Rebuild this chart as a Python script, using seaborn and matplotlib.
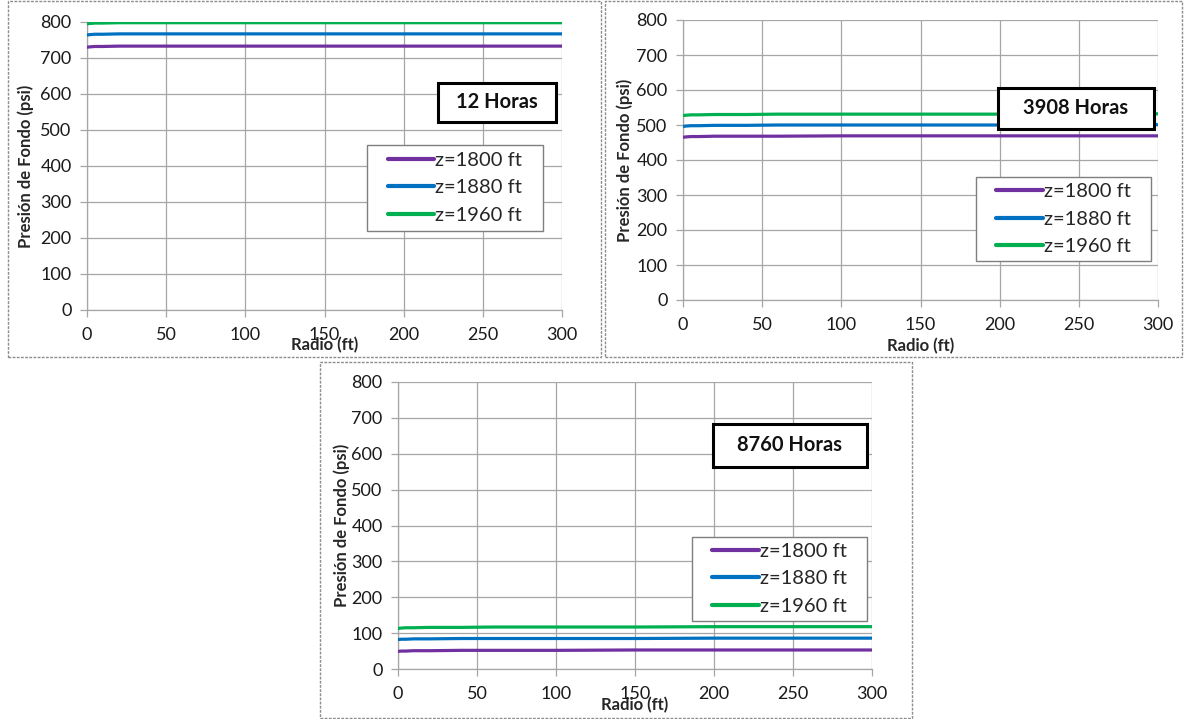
import matplotlib
matplotlib.use("Agg")
import matplotlib.pyplot as plt
from matplotlib.patches import Rectangle
import seaborn as sns
import pandas as pd

# ---------------- data ----------------
radio = [0, 2, 5, 10, 20, 40, 60, 100, 150, 200, 250, 300]
series = ["z=1800 ft", "z=1880 ft", "z=1960 ft"]
colors = ["#7030A0", "#0070C0", "#00B050"]

p12_1800 = [730, 731, 732, 732, 733, 733, 733, 733, 733, 733, 733, 733]
p12_1880 = [764, 765, 766, 766, 767, 767, 767, 767, 767, 767, 767, 767]
p12_1960 = [795, 796, 797, 797, 798, 798, 798, 798, 798, 798, 798, 798]

p3908_1800 = [465, 466, 467, 467, 468, 468, 468, 469, 469, 469, 469, 469]
p3908_1880 = [496, 497, 498, 498, 499, 499, 500, 500, 500, 500, 500, 501]
p3908_1960 = [527, 528, 529, 529, 530, 530, 531, 531, 531, 531, 532, 532]

p8760_1800 = [49, 50, 50, 51, 51, 52, 52, 52, 53, 53, 53, 53]
p8760_1880 = [82, 83, 83, 84, 84, 85, 85, 85, 85, 86, 86, 86]
p8760_1960 = [113, 114, 115, 115, 116, 116, 117, 117, 117, 118, 118, 118]

panel_titles = ["12 Horas", "3908 Horas", "8760 Horas"]
xticks = [0, 50, 100, 150, 200, 250, 300]
yticks = [0, 100, 200, 300, 400, 500, 600, 700, 800]
xlabel = "Radio (ft)"
ylabel = "Presión de Fondo (psi)"

# ---------------- style ----------------
sns.set_theme(style="white")
plt.rcParams["font.family"] = ["Lato", "DejaVu Sans"]

W, H = 1190, 719
fig = plt.figure(figsize=(W / 100, H / 100), dpi=100)
fig.patch.set_facecolor("white")

def fx(px):
    return px / W

def fy(py):
    return 1 - py / H

# panel frames (pixel coordinates: x0, y0, x1, y1)
frames = [(8, 1, 601, 357), (605, 1, 1182, 357), (320, 362, 912, 718)]
for (x0, y0, x1, y1) in frames:
    fig.add_artist(Rectangle((fx(x0), fy(y1)), fx(x1 - x0), (y1 - y0) / H,
                             transform=fig.transFigure, fill=False,
                             edgecolor="#8c8c8c", lw=1.0, ls=(0, (2, 1))))

# axes areas (pixel coordinates: left, top, right, bottom)
axes_px = [(87, 22, 562, 310), (683, 20, 1158, 300), (398, 382, 872, 669)]

panel_data = [
    [p12_1800, p12_1880, p12_1960],
    [p3908_1800, p3908_1880, p3908_1960],
    [p8760_1800, p8760_1880, p8760_1960],
]

# title box (center x, center y in axes coords, width, height in px)
boxes = [(0.863, 0.7205, 118, 39), (0.827, 0.684, 156, 41), (0.827, 0.779, 154, 43)]
# legend box (center x, center y in axes coords, width, height in px)
legboxes = [(0.775, 0.424, 176, 86), (0.801, 0.289, 175, 84), (0.805, 0.314, 175, 84)]
xlabel_y = [-0.095, -0.137, -0.099]
ylabel_x = [-0.112, -0.105, -0.101]

for i, (l, t, r, b) in enumerate(axes_px):
    ax = fig.add_axes([fx(l), fy(b), fx(r - l), (b - t) / H])
    aw, ah = (r - l), (b - t)
    rows = []
    for s, vals in zip(series, panel_data[i]):
        for x, v in zip(radio, vals):
            rows.append({"Radio": x, "P": v, "Serie": s})
    df = pd.DataFrame(rows)
    sns.lineplot(data=df, x="Radio", y="P", hue="Serie", hue_order=series,
                 palette=colors, lw=2.3, ax=ax, legend=True, zorder=3)
    ax.set_xlim(0, 300)
    ax.set_ylim(0, 800)
    ax.set_xticks(xticks)
    ax.set_yticks(yticks)
    ax.grid(True, color="#a6a6a6", lw=0.9)
    ax.set_axisbelow(True)
    for sp in ["top", "right"]:
        ax.spines[sp].set_visible(False)
    for sp in ["left", "bottom"]:
        ax.spines[sp].set_color("#a6a6a6")
        ax.spines[sp].set_linewidth(0.9)
    ax.tick_params(axis="both", which="major", direction="out", length=5,
                   width=0.9, color="#a6a6a6", labelsize=13,
                   labelcolor="#1a1a1a", bottom=True, left=True)
    ax.tick_params(axis="x", pad=7)
    ax.tick_params(axis="y", pad=6)
    ax.set_xlabel(xlabel, fontsize=12, fontweight="bold", color="#262626")
    ax.set_ylabel(ylabel, fontsize=12, fontweight="bold", color="#262626")
    ax.xaxis.set_label_coords(0.5, xlabel_y[i])
    ax.yaxis.set_label_coords(ylabel_x[i], 0.5)

    # legend frame drawn as a rectangle, legend itself frameless
    lcx, lcy, lw_, lh_ = legboxes[i]
    ax.add_patch(Rectangle((lcx - lw_ / aw / 2, lcy - lh_ / ah / 2), lw_ / aw, lh_ / ah,
                           transform=ax.transAxes, facecolor="white",
                           edgecolor="#7f7f7f", lw=1.0, zorder=5, clip_on=False))
    leg = ax.legend(loc="center", bbox_to_anchor=(lcx, lcy),
                    frameon=False, fontsize=14.5,
                    handlelength=2.3, handletextpad=0.05, labelspacing=0.52,
                    borderpad=0.0, borderaxespad=0)
    for line in leg.get_lines():
        line.set_linewidth(3)
    leg.set_zorder(6)

    cx, cy, bw, bh = boxes[i]
    ax.add_patch(Rectangle((cx - bw / aw / 2, cy - bh / ah / 2), bw / aw, bh / ah,
                           transform=ax.transAxes, facecolor="white",
                           edgecolor="black", lw=2.2, zorder=7, clip_on=False))
    ax.text(cx, cy, panel_titles[i], transform=ax.transAxes, ha="center",
            va="center", fontsize=14.5, fontweight="bold", color="#111111",
            zorder=8)

fig.savefig("out.png", dpi=100, facecolor="white")
